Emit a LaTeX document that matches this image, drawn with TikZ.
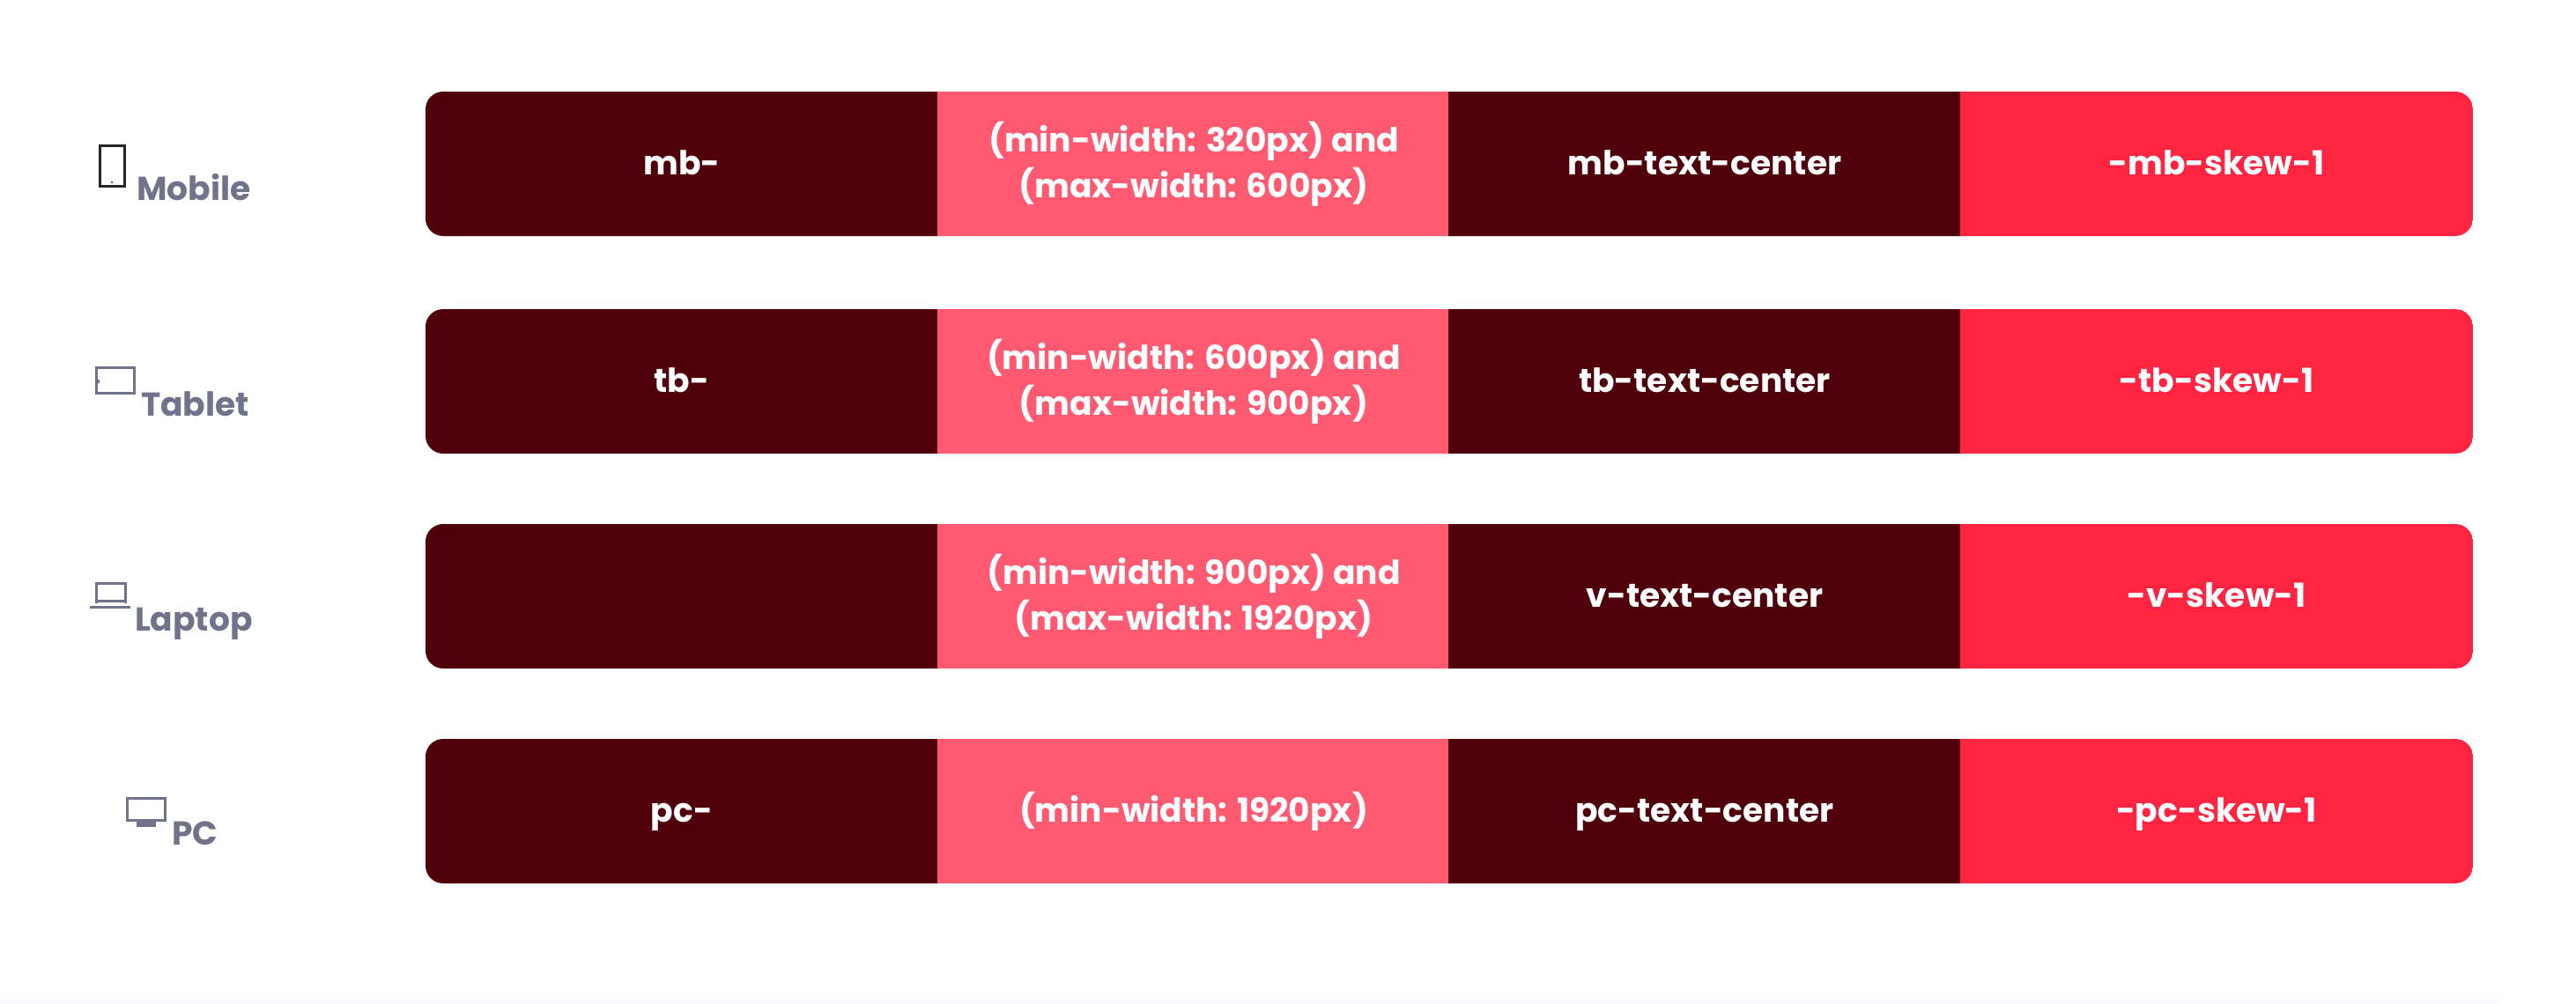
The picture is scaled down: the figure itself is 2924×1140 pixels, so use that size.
\documentclass[tikz,border=0pt]{standalone}
\usepackage{fontspec}
\setmainfont{Poppins}
\definecolor{barmaroon}{HTML}{4F000B}
\definecolor{barrose}{HTML}{FF5A72}
\definecolor{barred}{HTML}{FF2442}
\definecolor{devicegray}{HTML}{70738A}
\definecolor{footline}{HTML}{FAFAFC}
\newcommand{\celltextsize}{\fontsize{37.6}{52}\selectfont}
\newcommand{\devicetextsize}{\fontsize{37.6}{44}\selectfont}
\newcommand{\cellstrut}{\rule[-14pt]{0pt}{52pt}}
\tikzstyle{cell}=[inner sep=0, outer sep=0, minimum width=582, minimum height=165,
                  text=white, align=center, font=\celltextsize\bfseries]
\tikzstyle{device}=[inner sep=0, outer sep=0, anchor=base west, text=devicegray,
                    font=\devicetextsize\bfseries]
\tikzstyle{iconline}=[draw=devicegray, line width=3pt]

\begin{document}
\begin{tikzpicture}[x=1pt, y=-1pt]
        \useasboundingbox (0, 0) rectangle (2924, 1140);
        \fill[footline] (0, 1135) rectangle (2835, 1140);
        % One bar per device, the outer corners come from the clip.
        \foreach \rowname/\rowy/\prefix/\query/\textclass/\skewclass in {
            mb/104/mb-/{(min-width: 320px) and\\(max-width: 600px)}/mb-text-center/-mb-skew-1,
            tb/351/tb-/{(min-width: 600px) and\\(max-width: 900px)}/tb-text-center/-tb-skew-1,
            lp/595//{(min-width: 900px) and\\(max-width: 1920px)}/v-text-center/-v-skew-1,
            pc/839/pc-/{(min-width: 1920px)}/pc-text-center/-pc-skew-1} {
            \begin{scope}
                \clip[rounded corners=20] (483, \rowy) rectangle +(2324, 164);
                \node[cell, fill=barmaroon] (\rowname prefix) at (774, \rowy+82) {\cellstrut\prefix};
                \node[cell, fill=barrose]   (\rowname query) at (1355, \rowy+82) {\query};
                \node[cell, fill=barmaroon] (\rowname text) at (1935, \rowy+82) {\cellstrut\textclass};
                \node[cell, fill=barred]    (\rowname skew) at (2516, \rowy+82) {\cellstrut\skewclass};
            \end{scope}
        }
        % Device labels.
        \node[device] (mobile) at (155, 227) {Mobile};
        \node[device] (tablet) at (160, 472) {Tablet};
        \node[device] (laptop) at (153, 716) {Laptop};
        \node[device] (pc)     at (195, 959) {PC};
        % Device icons.
        \draw[line width=3pt, black!85] (113, 165) rectangle (141, 211);
        \fill[black!60] (127, 207) circle (1.5);
        \draw[iconline] (109, 417) rectangle (152, 446);
        \fill[devicegray] (109, 431) rectangle (113, 435);
        \draw[iconline] (109, 685) -- (109, 662) -- (142, 662) -- (142, 685);
        \draw[iconline] (109, 682) -- (142, 682);
        \draw[iconline] (102, 689) -- (148, 689);
        \draw[iconline] (144, 906) -- (187, 906) -- (187, 931) -- (144, 931) -- cycle;
        \fill[devicegray] (155, 931) rectangle (177, 939);
    \end{tikzpicture}
\end{document}
